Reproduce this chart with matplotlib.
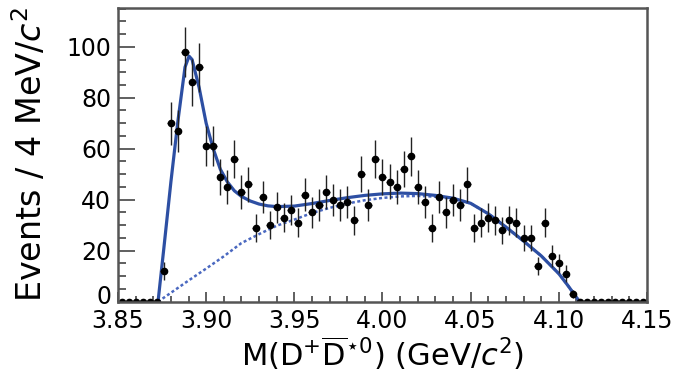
import numpy as np
import matplotlib
matplotlib.use("Agg")
import matplotlib.pyplot as plt
import matplotlib.transforms as mtransforms

plt.rcParams['font.family'] = ['DejaVu Sans']
plt.rcParams['mathtext.fontset'] = 'dejavusans'

# 4 MeV bins from 3.85 to 4.15 GeV
bin_lo = 3.85
bin_w = 0.004
counts = [0, 0, 0, 0, 0, 0,
          12, 70, 67, 98, 86, 92, 61, 61, 49, 45,
          56, 43, 46, 29, 41, 30, 37, 33, 36, 31,
          42, 35, 38, 43, 40, 38, 39, 32, 50, 38,
          56, 49, 47, 45, 52, 57, 45, 39, 29, 41,
          35, 40, 38, 46, 29, 31, 33, 32, 28, 32,
          31, 25, 25, 14, 31, 18, 15, 11, 3,
          0, 0, 0, 0, 0, 0, 0, 0, 0, 0]
errs = [0, 0, 0, 0, 0, 0,
        3.5, 8.4, 8.2, 9.9, 9.3, 9.6, 7.8, 7.8, 7.0, 6.7,
        7.5, 6.6, 6.8, 5.4, 6.4, 5.5, 6.1, 5.7, 6.0, 5.6,
        6.5, 5.9, 6.2, 6.6, 6.3, 6.2, 6.2, 5.7, 7.1, 6.2,
        7.5, 7.0, 6.9, 6.7, 7.2, 7.5, 6.7, 6.2, 5.4, 6.4,
        5.9, 6.3, 6.2, 6.8, 5.4, 5.6, 5.7, 5.7, 5.3, 5.7,
        5.6, 5.0, 5.0, 3.7, 5.6, 4.2, 3.9, 3.3, 1.7,
        0, 0, 0, 0, 0, 0, 0, 0, 0, 0]

# total fit (solid) and background (dashed)
fit_x = [3.8727, 3.876, 3.880, 3.884, 3.888, 3.8903, 3.892, 3.896, 3.900, 3.904,
         3.908, 3.912, 3.916, 3.920, 3.925, 3.930, 3.935, 3.940, 3.950, 3.960,
         3.970, 3.980, 3.990, 4.000, 4.010, 4.020, 4.030, 4.040, 4.050, 4.060,
         4.070, 4.080, 4.090, 4.100, 4.105, 4.1118]
fit_y = [0, 21, 47, 71, 92, 96.3, 95, 84, 70, 60,
         52, 47, 43.5, 41.3, 39.5, 38.3, 37.6, 37.3, 37.5, 38.5,
         39.7, 40.8, 41.7, 42.3, 42.6, 42.4, 41.7, 40.6, 38.6, 34.5,
         29.3, 23.8, 18, 11, 6.5, 0]
bkg_x = [3.8727, 3.880, 3.890, 3.900, 3.910, 3.920, 3.930, 3.940, 3.950, 3.960,
         3.970, 3.980, 3.990, 4.000, 4.010, 4.020, 4.030, 4.040, 4.050, 4.060,
         4.070, 4.080, 4.090, 4.100, 4.105, 4.1118]
bkg_y = [0, 3.5, 8.3, 13, 17.8, 23, 26.5, 29.8, 32.2, 34.8,
         36.8, 38.5, 39.8, 40.7, 41.3, 41.5, 41.2, 40.3, 38.6, 34.5,
         29.3, 23.8, 18, 11, 6.5, 0]

centers = bin_lo + bin_w * (np.arange(len(counts)) + 0.5)

fig = plt.figure(figsize=(6.79, 3.74), dpi=100)
ax = fig.add_axes([0.1738, 0.1933, 0.779, 0.7853])

ax.plot(bkg_x, bkg_y, color='#4a68c0', lw=1.8, ls=(0, (1.2, 1.0)))
ax.plot(fit_x, fit_y, color='#2d4fa3', lw=2.3)
ax.errorbar(centers, counts, yerr=errs, xerr=bin_w / 2, fmt='o', color='black',
            ms=4.5, elinewidth=1.0, capsize=0, ecolor='#222222')

ax.set_xlim(3.85, 4.15)
ax.set_ylim(0, 115.2)
ax.set_xticks([3.85, 3.90, 3.95, 4.00, 4.05, 4.10, 4.15])
ax.set_xticklabels(['3.85', '3.90', '3.95', '4.00', '4.05', '4.10', '4.15'])
ax.set_xticks(np.arange(3.85, 4.151, 0.01), minor=True)
ax.set_yticks([0, 20, 40, 60, 80, 100])
ax.set_yticks(np.arange(0, 116, 5), minor=True)

ax.tick_params(which='both', direction='in', top=False, right=False,
               color='#444444', labelsize=17, width=1.2)
ax.tick_params(axis='y', which='major', length=12, pad=5)
ax.tick_params(axis='y', which='minor', length=6)
ax.tick_params(axis='x', which='major', length=7, pad=5)
ax.tick_params(axis='x', which='minor', length=4)
for s in ax.spines.values():
    s.set_color('#555555')
    s.set_linewidth(1.8)

# nudge the "0" label up a bit so it clears "3.85"
zero_lbl = ax.get_yticklabels()[0]
zero_lbl.set_transform(zero_lbl.get_transform() +
                       mtransforms.ScaledTranslation(0, 5 / 72, fig.dpi_scale_trans))

ax.set_xlabel(r'M(D$^{+}\overline{\mathrm{D}}^{\star 0}$) (GeV/$c^{2}$)', fontsize=22)
ax.set_ylabel(r'Events / 4 MeV/$c^{2}$', fontsize=24)
ax.xaxis.label.set_va('baseline')
ax.xaxis.set_label_coords(0.5, -0.219)
ax.yaxis.set_label_coords(-0.13, 0.5)

fig.savefig('out.png', dpi=100)
